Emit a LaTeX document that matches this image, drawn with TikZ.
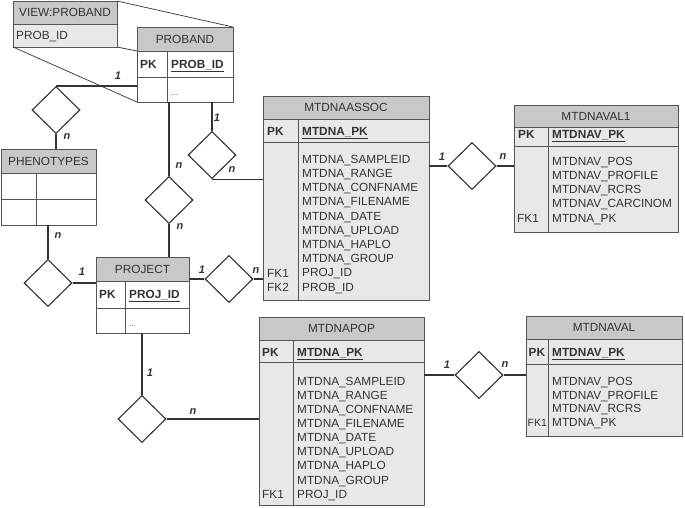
\documentclass[tikz,border=0pt]{standalone}
\usepackage{fontspec}
\setmainfont{Liberation Sans}
\usetikzlibrary{shapes.geometric}
\definecolor{hdgray}{HTML}{C8C8C8}
\definecolor{bdgray}{HTML}{E8E8E8}
\definecolor{ink}{HTML}{333333}
\definecolor{rim}{HTML}{555555}

\begin{document}
\begin{tikzpicture}[x=1pt,y=-1pt,font=\fontsize{11.8}{14}\selectfont,text=ink]
\tikzstyle{box}=[draw=rim,line width=0.9pt,inner sep=0pt,outer sep=0pt]
\tikzstyle{hd}=[box,fill=hdgray]
\tikzstyle{fld}=[anchor=west,inner sep=0pt,text height=8.6pt,text depth=0pt]
\tikzstyle{key}=[fld,font=\fontsize{11.8}{14}\selectfont\bfseries]
\tikzstyle{div}=[draw=rim,line width=0.9pt]
\tikzstyle{rel}=[draw=ink,line width=1.1pt]
\tikzstyle{proj}=[draw=ink,line width=0.7pt]
\tikzstyle{dia}=[diamond,draw=ink,line width=1.1pt,fill=white,minimum width=48pt,minimum height=47pt,inner sep=0pt]
\tikzstyle{card}=[inner sep=0pt,font=\fontsize{11}{12}\selectfont\bfseries\itshape]
\useasboundingbox (0,0) rectangle (685,507);

% view and proband
\node[hd,minimum width=104pt,minimum height=23pt] (viewH) at (65,12.5) {VIEW:PROBAND};
\node[box,fill=bdgray,minimum width=104pt,minimum height=23pt] (viewB) at (65,35.5) {};
\node[fld] (viewF) at (16,35) {PROB\_ID};
\node[hd,minimum width=96pt,minimum height=24pt] (probH) at (185,39) {PROBAND};
\node[box,fill=white,minimum width=96pt,minimum height=26pt] (probK) at (185,64) {};
\node[box,fill=white,minimum width=96pt,minimum height=25pt] (probB) at (185,89.5) {};
\draw[div] ([xshift=30pt]probK.north west) -- ([xshift=30pt]probB.south west);
\node[key] (probPK) at (140,64) {PK};
\node[key] (probKey) at (171,64) {\underline{PROB\_ID}};
\node[fld] (probDots) at (171,91) {\scriptsize\ldots};
\draw[proj] (viewH.north east) -- (probH.north east);
\draw[proj] (viewB.south east) -- (probK.north west);
\draw[proj] (viewB.south west) -- (probB.south west);

% phenotypes
\node[hd,minimum width=95pt,minimum height=24pt] (phenH) at (48.5,161) {PHENOTYPES};
\node[box,fill=white,minimum width=95pt,minimum height=26pt] (phenR1) at (48.5,186) {};
\node[box,fill=white,minimum width=95pt,minimum height=26pt] (phenR2) at (48.5,212) {};
\draw[div] ([xshift=35pt]phenR1.north west) -- ([xshift=35pt]phenR2.south west);

% project
\node[hd,minimum width=93pt,minimum height=24pt] (projH) at (142.5,269) {PROJECT};
\node[box,fill=white,minimum width=93pt,minimum height=27pt] (projK) at (142.5,294.5) {};
\node[box,fill=white,minimum width=93pt,minimum height=25pt] (projB) at (142.5,320.5) {};
\draw[div] ([xshift=29pt]projK.north west) -- ([xshift=29pt]projB.south west);
\node[key] (projPK) at (99,294) {PK};
\node[key] (projKey) at (129,294) {\underline{PROJ\_ID}};
\node[fld] (projDots) at (129,322) {\scriptsize\ldots};

% mtdnaassoc
\node[hd,minimum width=166pt,minimum height=23pt] (assocH) at (346,107.5) {MTDNAASSOC};
\node[box,fill=bdgray,minimum width=166pt,minimum height=23pt] (assocK) at (346,130.5) {};
\node[box,fill=bdgray,minimum width=166pt,minimum height=158pt] (assocB) at (346,221) {};
\draw[div] ([xshift=35pt]assocK.north west) -- ([xshift=35pt]assocB.south west);
\node[key] (assocPK) at (267,131) {PK};
\node[key] (assocKey) at (302,131) {\underline{MTDNA\_PK}};
\foreach \f [count=\i from 0] in {MTDNA\_SAMPLEID,MTDNA\_RANGE,MTDNA\_CONFNAME,MTDNA\_FILENAME,MTDNA\_DATE,MTDNA\_UPLOAD,MTDNA\_HAPLO,MTDNA\_GROUP,PROJ\_ID,PROB\_ID}
  \node[fld] (assocF\i) at (302,159+14.2*\i) {\f};
\node[fld] (assocFK1) at (267,272.8) {FK1};
\node[fld] (assocFK2) at (267,287) {FK2};

% mtdnaval1
\node[hd,minimum width=164pt,minimum height=22pt] (val1H) at (596,116) {MTDNAVAL1};
\node[box,fill=bdgray,minimum width=164pt,minimum height=19pt] (val1K) at (596,136.5) {};
\node[box,fill=bdgray,minimum width=164pt,minimum height=86pt] (val1B) at (596,189) {};
\draw[div] ([xshift=34pt]val1K.north west) -- ([xshift=34pt]val1B.south west);
\node[key] (val1PK) at (518,134.5) {PK};
\node[key] (val1Key) at (552,134.5) {\underline{MTDNAV\_PK}};
\foreach \f [count=\i from 0] in {MTDNAV\_POS,MTDNAV\_PROFILE,MTDNAV\_RCRS,MTDNAV\_CARCINOM,MTDNA\_PK}
  \node[fld] (val1F\i) at (552,161+14.2*\i) {\f};
\node[fld] (val1FK1) at (517,217.8) {FK1};

% mtdnapop
\node[hd,minimum width=165pt,minimum height=23pt] (popH) at (341.5,328.5) {MTDNAPOP};
\node[box,fill=bdgray,minimum width=165pt,minimum height=22pt] (popK) at (341.5,351) {};
\node[box,fill=bdgray,minimum width=165pt,minimum height=143pt] (popB) at (341.5,433.5) {};
\draw[div] ([xshift=34pt]popK.north west) -- ([xshift=34pt]popB.south west);
\node[key] (popPK) at (262,352) {PK};
\node[key] (popKey) at (297,352) {\underline{MTDNA\_PK}};
\foreach \f [count=\i from 0] in {MTDNA\_SAMPLEID,MTDNA\_RANGE,MTDNA\_CONFNAME,MTDNA\_FILENAME,MTDNA\_DATE,MTDNA\_UPLOAD,MTDNA\_HAPLO,MTDNA\_GROUP,PROJ\_ID}
  \node[fld] (popF\i) at (297,381+14.1*\i) {\f};
\node[fld] (popFK1) at (262,493.8) {FK1};

% mtdnaval
\node[hd,minimum width=156pt,minimum height=23pt] (valH) at (604,327.5) {MTDNAVAL};
\node[box,fill=bdgray,minimum width=156pt,minimum height=25pt] (valK) at (604,351.5) {};
\node[box,fill=bdgray,minimum width=156pt,minimum height=72pt] (valB) at (604,400) {};
\draw[div] ([xshift=22pt]valK.north west) -- ([xshift=22pt]valB.south west);
\node[key] (valPK) at (528.5,352) {PK};
\node[key] (valKey) at (552,352) {\underline{MTDNAV\_PK}};
\foreach \f [count=\i from 0] in {MTDNAV\_POS,MTDNAV\_PROFILE,MTDNAV\_RCRS,MTDNA\_PK}
  \node[fld] (valF\i) at (552,381+13.8*\i) {\f};
\node[fld,font=\fontsize{10.5}{12}\selectfont] (valFK1) at (527.5,422.4) {FK1};

% relationships
\node[dia] (d1) at (56,110) {};
\node[dia] (d2) at (48,283) {};
\node[dia] (d3) at (169,200) {};
\node[dia] (d4) at (212,155) {};
\node[dia] (d5) at (229,279) {};
\node[dia] (d6) at (472,166) {};
\node[dia] (d7) at (142,419) {};
\node[dia] (d8) at (479,375) {};

\draw[rel] (d1.north) -- (d1.north -| probB.west);
\draw[rel] (d1.south) -- (d1.south |- phenH.north);
\draw[rel] (d2.north) -- (d2.north |- phenR2.south);
\draw[rel] (d2.east) -- (d2.east -| projK.west);
\draw[rel] (d3.north) -- (d3.north |- probB.south);
\draw[rel] (d3.south) -- (d3.south |- projH.north);
\draw[rel] (d4.north) -- (d4.north |- probB.south);
\draw[rel] (d4.south) -- (d4.south -| assocB.west);
\draw[rel] (d5.west) -- (d5.west -| projK.east);
\draw[rel] (d5.east) -- (d5.east -| assocB.west);
\draw[rel] (d6.west) -- (d6.west -| assocB.east);
\draw[rel] (d6.east) -- (d6.east -| val1B.west);
\draw[rel] (d7.north) -- (d7.north |- projB.south);
\draw[rel] (d7.east) -- (d7.east -| popB.west);
\draw[rel] (d8.west) -- (d8.west -| popB.east);
\draw[rel] (d8.east) -- (d8.east -| valB.west);

% cardinalities
\node[card] (c1) at (118,76) {1};
\node[card] (c2) at (67,137) {n};
\node[card] (c3) at (58,236) {n};
\node[card] (c4) at (82,272) {1};
\node[card] (c5) at (179,166) {n};
\node[card] (c6) at (180,227) {n};
\node[card] (c7) at (217,118) {1};
\node[card] (c8) at (232,170) {n};
\node[card] (c9) at (202,270) {1};
\node[card] (c10) at (256,271) {n};
\node[card] (c11) at (442,157) {1};
\node[card] (c12) at (503,157) {n};
\node[card] (c13) at (150,373) {1};
\node[card] (c14) at (193,412) {n};
\node[card] (c15) at (447,365) {1};
\node[card] (c16) at (505,365) {n};
\end{tikzpicture}
\end{document}
